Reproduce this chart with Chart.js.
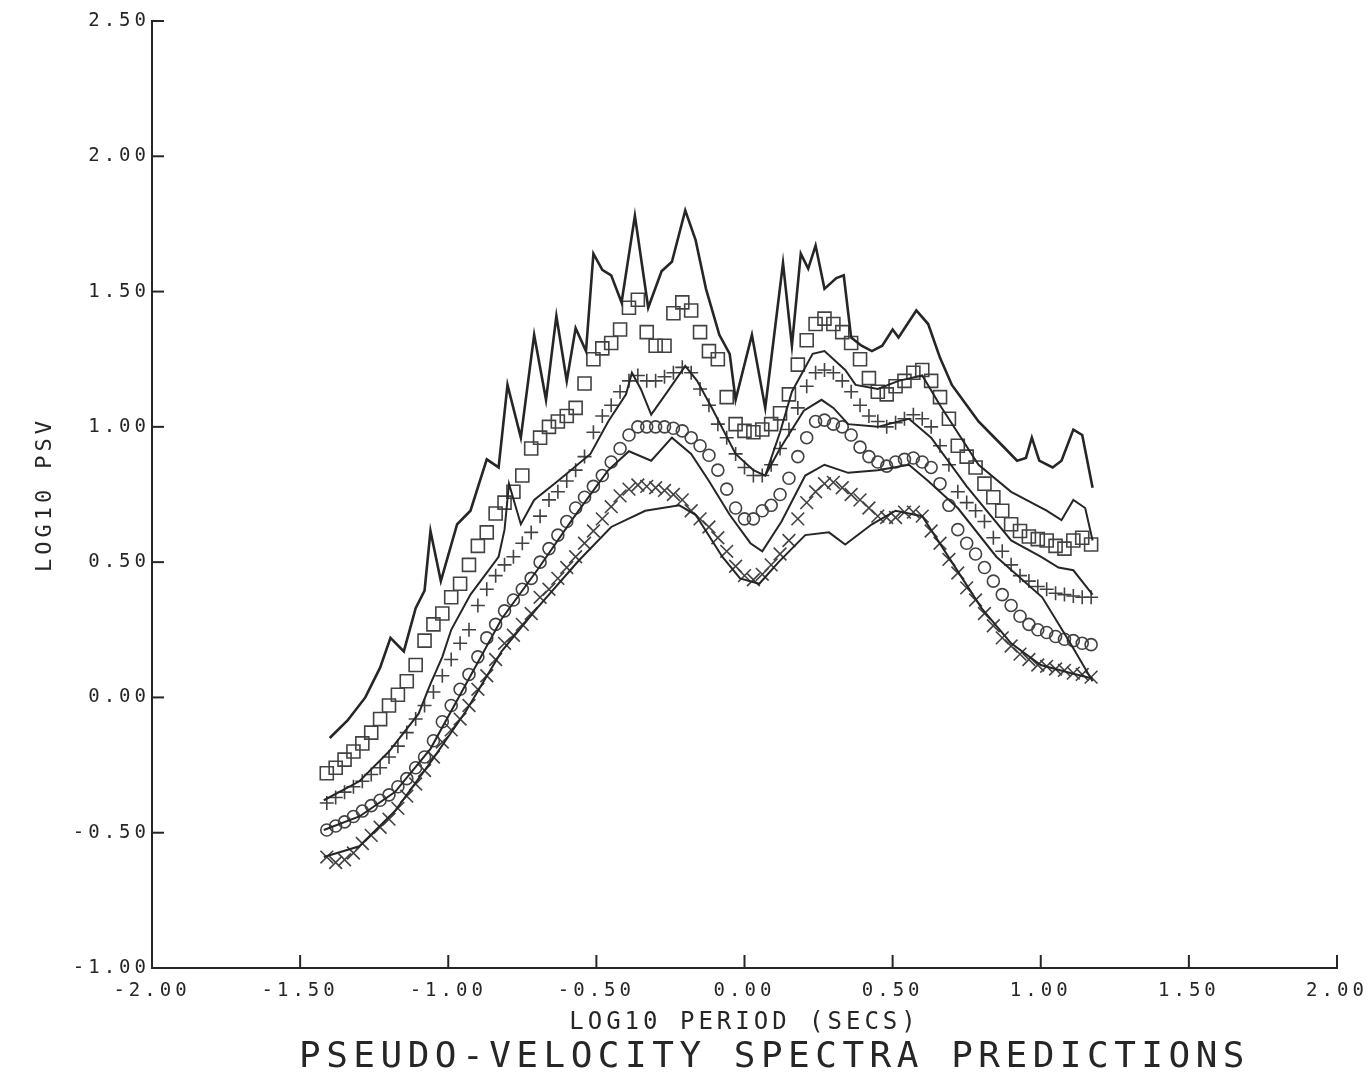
<!DOCTYPE html>
<html>
<head>
<meta charset="utf-8">
<script src="https://cdn.jsdelivr.net/npm/chart.js@4.4.0/dist/chart.umd.min.js"></script>
<style>
  html, body { margin: 0; padding: 0; background: #fff; }
</style>
</head>
<body>
<canvas id="myChart" width="1372" height="1082"></canvas>
<script>
// log10 period (secs) where the predictions are plotted
var periods = [-1.41,-1.38,-1.35,-1.32,-1.29,-1.26,-1.23,-1.20,-1.17,-1.14,-1.11,-1.08,-1.05,-1.02,-0.99,-0.96,-0.93,-0.90,-0.87,-0.84,-0.81,-0.78,-0.75,-0.72,-0.69,-0.66,-0.63,-0.60,-0.57,-0.54,-0.51,-0.48,-0.45,-0.42,-0.39,-0.36,-0.33,-0.30,-0.27,-0.24,-0.21,-0.18,-0.15,-0.12,-0.09,-0.06,-0.03,0.00,0.03,0.06,0.09,0.12,0.15,0.18,0.21,0.24,0.27,0.30,0.33,0.36,0.39,0.42,0.45,0.48,0.51,0.54,0.57,0.60,0.63,0.66,0.69,0.72,0.75,0.78,0.81,0.84,0.87,0.90,0.93,0.96,0.99,1.02,1.05,1.08,1.11,1.14,1.17];

// marker series (log10 psv)
var squares = [-0.28,-0.26,-0.23,-0.20,-0.17,-0.13,-0.08,-0.03,0.01,0.06,0.12,0.21,0.27,0.31,0.37,0.42,0.49,0.56,0.61,0.68,0.72,0.76,0.82,0.92,0.96,1.00,1.02,1.04,1.07,1.16,1.25,1.29,1.31,1.36,1.44,1.47,1.35,1.30,1.30,1.42,1.46,1.43,1.35,1.28,1.25,1.11,1.01,0.985,0.98,0.99,1.01,1.05,1.12,1.23,1.32,1.38,1.40,1.38,1.35,1.31,1.25,1.18,1.13,1.12,1.15,1.17,1.20,1.21,1.17,1.11,1.03,0.93,0.89,0.85,0.79,0.74,0.69,0.64,0.615,0.595,0.585,0.58,0.56,0.55,0.58,0.59,0.565];
var pluses = [-0.39,-0.37,-0.35,-0.33,-0.31,-0.285,-0.26,-0.22,-0.18,-0.13,-0.08,-0.03,0.02,0.08,0.14,0.20,0.25,0.34,0.40,0.45,0.49,0.52,0.57,0.61,0.67,0.73,0.76,0.80,0.84,0.89,0.98,1.04,1.08,1.13,1.17,1.19,1.17,1.17,1.185,1.20,1.22,1.20,1.14,1.08,1.01,0.96,0.90,0.85,0.82,0.82,0.86,0.92,0.99,1.07,1.15,1.20,1.21,1.20,1.17,1.13,1.08,1.04,1.02,1.00,1.015,1.03,1.045,1.03,1.00,0.93,0.86,0.76,0.72,0.69,0.65,0.59,0.54,0.49,0.45,0.43,0.41,0.40,0.385,0.38,0.375,0.37,0.37];
var circles = [-0.49,-0.475,-0.46,-0.44,-0.42,-0.40,-0.38,-0.36,-0.33,-0.30,-0.26,-0.22,-0.16,-0.09,-0.03,0.03,0.085,0.15,0.22,0.27,0.32,0.36,0.40,0.44,0.50,0.55,0.60,0.65,0.70,0.74,0.78,0.82,0.87,0.92,0.97,1.00,1.00,1.00,1.00,0.995,0.985,0.96,0.93,0.895,0.84,0.77,0.70,0.66,0.66,0.69,0.71,0.75,0.81,0.89,0.96,1.02,1.025,1.01,1.00,0.97,0.925,0.89,0.87,0.855,0.87,0.88,0.885,0.87,0.85,0.79,0.71,0.62,0.57,0.53,0.48,0.43,0.38,0.34,0.30,0.27,0.25,0.24,0.225,0.215,0.21,0.20,0.195];
var crosses = [-0.59,-0.61,-0.60,-0.575,-0.54,-0.51,-0.48,-0.45,-0.41,-0.365,-0.32,-0.27,-0.22,-0.165,-0.12,-0.08,-0.03,0.03,0.08,0.14,0.20,0.23,0.27,0.31,0.37,0.40,0.44,0.48,0.52,0.57,0.615,0.66,0.705,0.745,0.77,0.785,0.78,0.775,0.765,0.75,0.73,0.69,0.66,0.63,0.59,0.54,0.485,0.45,0.435,0.455,0.49,0.53,0.58,0.66,0.72,0.76,0.79,0.795,0.775,0.75,0.73,0.70,0.67,0.665,0.665,0.685,0.685,0.67,0.615,0.57,0.51,0.46,0.405,0.36,0.31,0.265,0.22,0.19,0.16,0.14,0.12,0.115,0.105,0.10,0.09,0.085,0.075];

// solid curves, each with its own periods
var topX = [-1.40,-1.34,-1.28,-1.23,-1.195,-1.15,-1.11,-1.08,-1.06,-1.025,-0.97,-0.925,-0.87,-0.83,-0.80,-0.755,-0.71,-0.67,-0.635,-0.60,-0.57,-0.535,-0.51,-0.48,-0.45,-0.415,-0.37,-0.325,-0.28,-0.245,-0.20,-0.165,-0.13,-0.085,-0.05,-0.03,0.025,0.07,0.13,0.16,0.19,0.215,0.24,0.27,0.31,0.335,0.36,0.395,0.43,0.465,0.50,0.52,0.58,0.62,0.66,0.70,0.75,0.79,0.835,0.88,0.92,0.95,0.97,0.995,1.04,1.07,1.11,1.14,1.175];
var topY = [-0.15,-0.085,0.0,0.11,0.22,0.17,0.33,0.395,0.615,0.43,0.64,0.69,0.88,0.85,1.155,0.96,1.34,1.10,1.41,1.17,1.365,1.28,1.64,1.58,1.56,1.46,1.78,1.44,1.575,1.61,1.80,1.69,1.51,1.34,1.27,1.10,1.34,1.07,1.605,1.30,1.64,1.585,1.67,1.51,1.55,1.56,1.33,1.30,1.28,1.30,1.36,1.33,1.43,1.38,1.255,1.155,1.08,1.02,0.97,0.92,0.875,0.885,0.96,0.875,0.85,0.875,0.99,0.97,0.775];

var line1X = [-1.42,-1.30,-1.20,-1.10,-1.06,-1.02,-0.99,-0.925,-0.83,-0.81,-0.795,-0.755,-0.71,-0.63,-0.52,-0.46,-0.40,-0.38,-0.35,-0.315,-0.26,-0.20,-0.16,-0.11,-0.03,0.03,0.07,0.12,0.16,0.23,0.27,0.34,0.375,0.45,0.52,0.60,0.66,0.79,0.90,1.02,1.07,1.11,1.15,1.175];
var line1Y = [-0.38,-0.31,-0.20,-0.06,0.05,0.15,0.25,0.38,0.52,0.62,0.79,0.64,0.73,0.80,0.90,1.02,1.12,1.20,1.14,1.045,1.13,1.225,1.17,1.07,0.90,0.84,0.82,0.98,1.13,1.27,1.28,1.21,1.155,1.14,1.17,1.19,1.08,0.86,0.76,0.69,0.655,0.73,0.70,0.58];

var line2X = [0.07,0.12,0.20,0.26,0.30,0.35,0.45,0.555,0.63,0.75,0.90,1.00,1.06,1.11,1.175];
var line2Y = [0.82,0.92,1.06,1.10,1.07,1.01,1.00,1.03,0.96,0.78,0.58,0.52,0.48,0.47,0.38];

var line3X = [-1.42,-1.30,-1.18,-1.06,-0.94,-0.82,-0.70,-0.58,-0.46,-0.39,-0.315,-0.245,-0.18,-0.12,-0.05,0.02,0.06,0.125,0.205,0.27,0.35,0.45,0.555,0.62,0.72,0.85,1.005,1.10,1.175];
var line3Y = [-0.49,-0.44,-0.35,-0.19,0.05,0.29,0.47,0.66,0.84,0.91,0.875,0.96,0.90,0.80,0.675,0.57,0.54,0.65,0.82,0.86,0.83,0.84,0.86,0.80,0.70,0.52,0.37,0.20,0.06];

var bottomX = [-1.42,-1.30,-1.18,-1.06,-0.94,-0.82,-0.70,-0.56,-0.45,-0.335,-0.22,-0.165,-0.075,-0.015,0.05,0.115,0.205,0.285,0.34,0.43,0.51,0.60,0.70,0.80,0.90,1.00,1.10,1.175];
var bottomY = [-0.59,-0.55,-0.42,-0.24,-0.05,0.17,0.33,0.505,0.63,0.69,0.71,0.675,0.52,0.44,0.42,0.50,0.60,0.61,0.565,0.64,0.69,0.67,0.50,0.33,0.20,0.12,0.09,0.07];

var yTicks = [-1.0,-0.5,0.0,0.5,1.0,1.5,2.0,2.5];
var xTicks = [-2.0,-1.5,-1.0,-0.5,0.0,0.5,1.0,1.5,2.0];
var mainTitle = 'PSEUDO-VELOCITY SPECTRA PREDICTIONS';

var ink = '#262626';
var markInk = '#424242';
var plotFont = 'DejaVu Sans Mono';

function pts(xs, ys) {
  return xs.map(function (x, i) { return { x: x, y: ys[i] }; });
}

function curve(xs, ys, width) {
  return {
    data: pts(xs, ys),
    showLine: true,
    borderColor: ink,
    borderWidth: width,
    pointRadius: 0,
    fill: false,
    tension: 0
  };
}

function markers(ys, style, radius) {
  return {
    data: pts(periods, ys),
    showLine: false,
    pointStyle: style,
    pointRadius: radius,
    pointBorderWidth: 1.6,
    pointBorderColor: markInk,
    pointBackgroundColor: 'rgba(0,0,0,0)'
  };
}

// plotter-style lettering is wide, so space the letters out
var spacing = {
  id: 'spacing',
  beforeLayout: function (chart) { chart.ctx.letterSpacing = '4px'; },
  beforeDraw: function (chart) { chart.ctx.letterSpacing = '4px'; }
};

// tick marks point into the plot; the big caption sits under the axis title
var frame = {
  id: 'frame',
  afterDraw: function (chart) {
    var ctx = chart.ctx, xs = chart.scales.x, ys = chart.scales.y;
    var area = chart.chartArea;
    ctx.save();
    ctx.strokeStyle = ink;
    ctx.lineWidth = 2;
    yTicks.forEach(function (v) {
      var py = ys.getPixelForValue(v);
      ctx.beginPath(); ctx.moveTo(area.left, py); ctx.lineTo(area.left + 12, py); ctx.stroke();
    });
    xTicks.forEach(function (v) {
      var px = xs.getPixelForValue(v);
      ctx.beginPath(); ctx.moveTo(px, area.bottom); ctx.lineTo(px, area.bottom - 13); ctx.stroke();
    });
    ctx.fillStyle = ink;
    ctx.font = '36px "' + plotFont + '"';
    ctx.letterSpacing = '5.5px';
    ctx.textAlign = 'center';
    ctx.textBaseline = 'middle';
    ctx.fillText(mainTitle, (area.left + area.right) / 2 + 30, chart.height - 24);
    ctx.restore();
  }
};

var ctx = document.getElementById('myChart');
var myChart = new Chart(ctx, {
  type: 'scatter',
  data: {
    datasets: [
      curve(topX, topY, 2.6),
      curve(line1X, line1Y, 2),
      curve(line2X, line2Y, 2),
      curve(line3X, line3Y, 2),
      curve(bottomX, bottomY, 2),
      markers(squares, 'rect', 9.2),
      markers(pluses, 'cross', 7),
      markers(circles, 'circle', 6),
      markers(crosses, 'crossRot', 9)
    ]
  },
  options: {
    responsive: false,
    animation: false,
    devicePixelRatio: 1,
    layout: { padding: { left: 0, right: 35, top: 21, bottom: 47 } },
    plugins: {
      legend: { display: false },
      tooltip: { enabled: false },
      title: { display: false }
    },
    scales: {
      x: {
        type: 'linear',
        min: -2, max: 2,
        afterBuildTicks: function (s) { s.ticks = xTicks.map(function (v) { return { value: v }; }); },
        afterFit: function (s) { s.height = 67; s.paddingLeft = 0; s.paddingRight = 0; },
        ticks: {
          color: ink,
          padding: 12,
          maxRotation: 0,
          font: { family: plotFont, size: 19 },
          callback: function (v) { return v.toFixed(2); }
        },
        grid: { display: false, drawTicks: false },
        border: { display: true, color: ink, width: 2 },
        title: {
          display: true,
          text: 'LOG10 PERIOD (SECS)',
          color: ink,
          font: { family: plotFont, size: 24 },
          padding: { top: 0, bottom: -2 }
        }
      },
      y: {
        type: 'linear',
        min: -1, max: 2.5,
        afterBuildTicks: function (s) { s.ticks = yTicks.map(function (v) { return { value: v }; }); },
        afterFit: function (s) { s.width = 152; },
        ticks: {
          color: ink,
          padding: 2,
          font: { family: plotFont, size: 19 },
          callback: function (v) { return v.toFixed(2); }
        },
        grid: { display: false, drawTicks: false },
        border: { display: true, color: ink, width: 2 },
        title: {
          display: true,
          text: 'LOG10 PSV',
          color: ink,
          font: { family: plotFont, size: 22 },
          padding: { top: 32, bottom: 0 }
        }
      }
    }
  },
  plugins: [spacing, frame]
});
</script>
</body>
</html>
